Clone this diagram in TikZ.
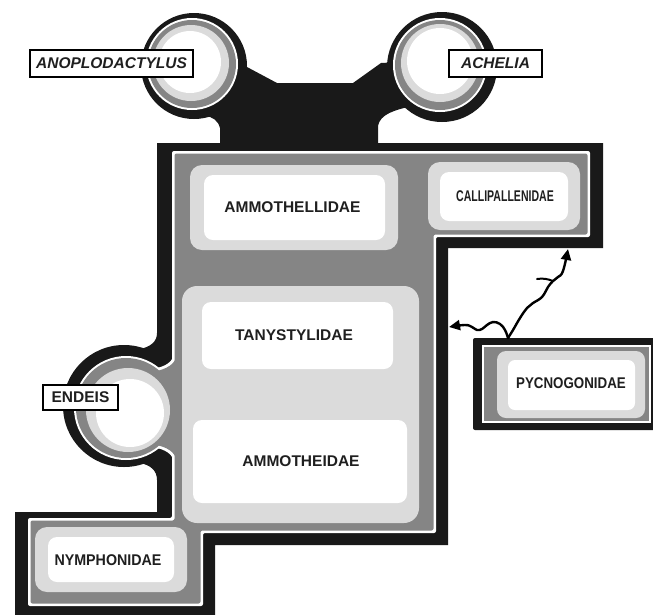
\documentclass[tikz,border=0pt]{standalone}
\usepackage{fontspec}
\setmainfont{Liberation Sans}
\usepackage{graphicx}
\usetikzlibrary{arrows.meta,shadows}

\definecolor{ink}{gray}{0.1}
\definecolor{bandgrey}{gray}{0.52}
\definecolor{stip}{gray}{0.86}

\tikzset{
  frame/.style={fill=ink},
  hairline/.style={fill=white},
  band/.style={fill=bandgrey},
  stipple/.style={fill=stip, rounded corners=12pt},
  core/.style={fill=white, rounded corners=9pt},
  family/.style={font=\fontsize{15.5}{18}\selectfont\bfseries, text=black!88, inner sep=0pt},
  genus/.style={draw=black, line width=1.4pt, fill=white, inner sep=0pt,
    drop shadow={shadow xshift=1.2pt, shadow yshift=-1.2pt, fill=black!45},
    font=\fontsize{15.5}{18}\selectfont\bfseries, text=black!88},
  link/.style={line width=2.4pt, -{Triangle[length=11pt,width=10pt]}, line cap=round, line join=round},
}

\begin{document}
\begin{tikzpicture}[x=1pt,y=-1pt]
\useasboundingbox (0,0) rectangle (653,614);
\clip (0,0) rectangle (653,614);
\fill[white] (0,0) rectangle (653,614);

% ---- outer dark layer ----
% neck joining the two top rings to the frame
\fill[frame] (200,75) -- (240,66) -- (247,67) -- (277,83) -- (353,83) -- (381,63) -- (400,62) -- (430,75)
  -- (412,106) .. controls (395,110) and (380,114) .. (378,126) -- (378,150) -- (220,150) -- (220,128)
  .. controls (218,120) and (212,117) .. (206,116) -- cycle;
% main frame
\fill[frame] (157,143) -- (603,143) -- (603,248) -- (448,248) -- (448,545) -- (215,545)
  -- (215,625) -- (15,625) -- (15,512) -- (157,512) -- cycle;
% side ring and its joint
\fill[frame] (124,406) circle[radius=61pt];
\fill[frame] (157,333) .. controls (157,342) and (150,347) .. (140,349) -- (140,463)
  .. controls (150,465) and (157,470) .. (157,480) -- cycle;
% top rings
\fill[frame] (194,66) circle[radius=53pt];
\fill[frame] (442,67) circle[radius=55pt];
% detached block
\fill[frame, rounded corners=2pt] (473,338) rectangle (662,430);

% ---- thin white line ----
\fill[hairline, rounded corners=2pt] (172,151) -- (590,151) -- (590,237) -- (436,237) -- (436,533) -- (203,533)
  -- (203,606) -- (28,606) -- (28,518) -- (172,518) -- cycle;
\fill[hairline] (126,408) circle[radius=52pt];
\fill[hairline] (174,352) .. controls (174,362) and (165,367) .. (152,369) -- (152,447)
  .. controls (165,449) and (174,454) .. (174,464) -- cycle;
\fill[hairline] (192,64) circle[radius=46pt];
\fill[hairline] (440,65) circle[radius=47pt];
\fill[hairline] (482,345) rectangle (651,423);

% ---- grey band ----
\fill[band, rounded corners=2pt] (174.5,153.5) -- (587.5,153.5) -- (587.5,234.5) -- (433.5,234.5) -- (433.5,530.5)
  -- (200.5,530.5) -- (200.5,603.5) -- (30.5,603.5) -- (30.5,520.5) -- (174.5,520.5) -- cycle;
\fill[band] (126,408) circle[radius=50pt];
\fill[band] (176.5,354) .. controls (176.5,364) and (166,369.5) .. (154,371.5) -- (154,444.5)
  .. controls (166,446.5) and (176.5,452) .. (176.5,462) -- cycle;
\fill[band] (192,64) circle[radius=44pt];
\fill[band] (440,65) circle[radius=45pt];
\fill[band] (484,347) rectangle (649,421);

% ---- ring centres ----
\fill[stip] (128,410) circle[radius=42pt];
\fill[white] (130,413) circle[radius=34pt];
\fill[stip] (191,63) circle[radius=38pt];
\fill[white] (190,62) circle[radius=31pt];
\fill[stip] (440,63) circle[radius=39pt];
\fill[white] (440,61) circle[radius=33pt];

% ---- family boxes ----
\fill[stipple] (190,165) rectangle (398,250);
\fill[core] (204,175) rectangle (385,240);
\fill[stipple] (428,162) rectangle (580,230);
\fill[core] (440,172) rectangle (568,221);
\fill[stipple, rounded corners=15pt] (182,286) rectangle (419,523);
\fill[core] (202,302) rectangle (393,369);
\fill[core] (193,420) rectangle (407,503);
\fill[stipple] (35,527) rectangle (187,592);
\fill[core] (48,537) rectangle (174,582);
\fill[stipple, rounded corners=9pt] (497,351) rectangle (645,418);
\fill[core, rounded corners=7pt] (508,360) rectangle (635,410);

% ---- names ----
\node[family] (ammothellidae) at (292.5,207) {AMMOTHELLIDAE};
\node[family] (callipallenidae) at (505,196) {\scalebox{0.68}[1]{CALLIPALLENIDAE}};
\node[family] (tanystylidae) at (294,335) {TANYSTYLIDAE};
\node[family] (ammotheidae) at (301,461) {AMMOTHEIDAE};
\node[family] (nymphonidae) at (108,560) {\scalebox{0.92}[1]{NYMPHONIDAE}};
\node[family] (pycnogonidae) at (571,383) {\scalebox{0.86}[1]{PYCNOGONIDAE}};

\node[genus, minimum width=163pt, minimum height=27pt] (anoplodactylus) at (111.5,63.5) {\itshape ANOPLODACTYLUS};
\node[genus, minimum width=93pt, minimum height=27pt] (achelia) at (495.5,63.5) {\itshape ACHELIA};
\node[genus, minimum width=75pt, minimum height=25pt] (endeis) at (80.5,397.5) {ENDEIS};

% ---- wavy arrows ----
\coordinate (src) at (508,338);
\coordinate (colR) at (449,327);
\coordinate (calB) at (568,249);
\coordinate (fork) at (553,281);
\draw[link] plot[smooth, tension=0.7] coordinates {(src) (505,330) (500,324) (493,322) (487,325)
  (482,329) (477,330) (472,327) (465,325) (colR)};
\draw[link] plot[smooth, tension=0.7] coordinates {(src) (513,330) (520,318) (527,308) (533,303)
  (542,297) (548,287) (fork) (558,277) (563,271) (calB)};
\draw[line width=2pt, line cap=round] (fork) .. controls (548,279) and (543,278) .. (537,279);
\end{tikzpicture}
\end{document}
